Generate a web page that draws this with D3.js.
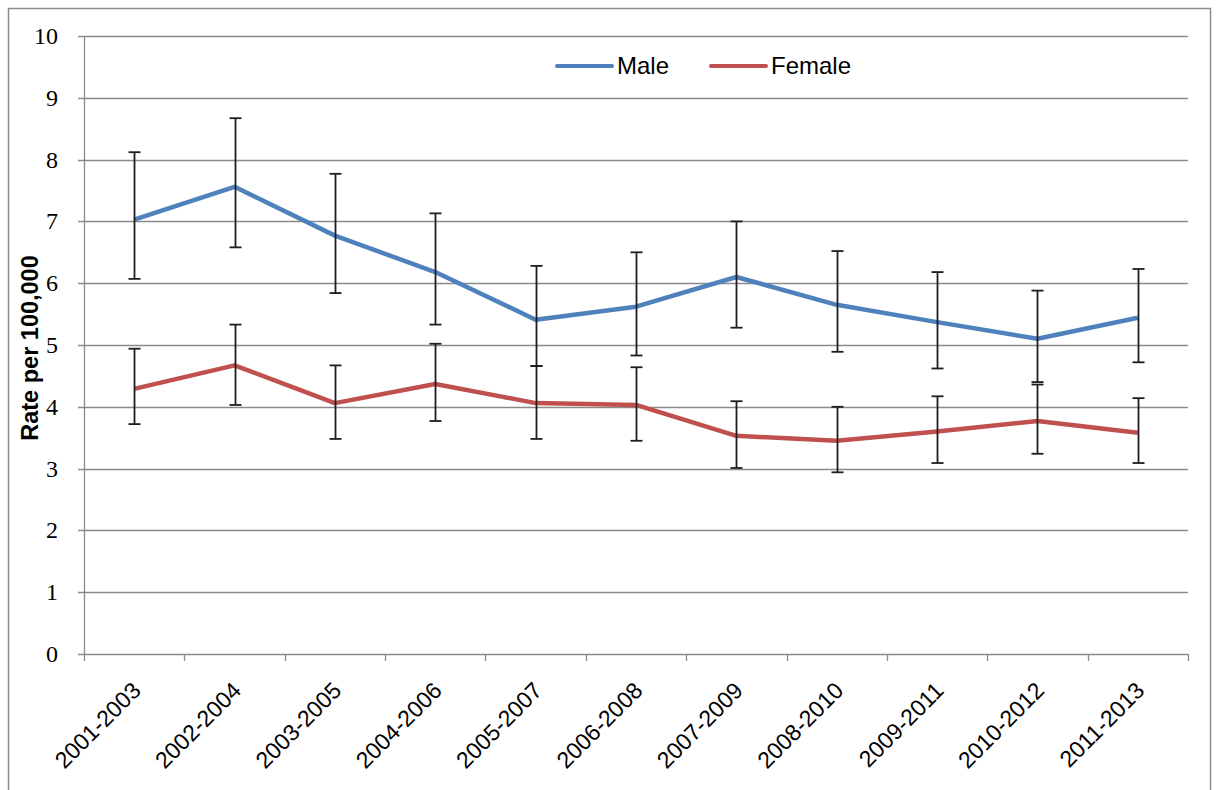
<!DOCTYPE html>
<html>
<head>
<meta charset="utf-8">
<script src="https://cdn.jsdelivr.net/npm/d3@7"></script>
<style>
  body { margin: 0; background: #fff; }
  svg { display: block; }
</style>
</head>
<body>
<svg id="chart"></svg>
<script>
var categories = ["2001-2003", "2002-2004", "2003-2005", "2004-2006", "2005-2007", "2006-2008",
    "2007-2009", "2008-2010", "2009-2011", "2010-2012", "2011-2013"];

var maleRate = [7.03, 7.56, 6.77, 6.18, 5.41, 5.62, 6.10, 5.65, 5.37, 5.10, 5.44];
var maleLow = [6.07, 6.58, 5.84, 5.33, 4.66, 4.83, 5.28, 4.89, 4.62, 4.40, 4.72];
var maleHigh = [8.12, 8.67, 7.77, 7.13, 6.28, 6.50, 7.00, 6.52, 6.18, 5.88, 6.23];

var femaleRate = [4.29, 4.67, 4.06, 4.37, 4.06, 4.03, 3.53, 3.45, 3.60, 3.77, 3.58];
var femaleLow = [3.72, 4.03, 3.48, 3.77, 3.48, 3.45, 3.01, 2.94, 3.09, 3.24, 3.09];
var femaleHigh = [4.94, 5.33, 4.67, 5.02, 4.66, 4.64, 4.09, 4.00, 4.17, 4.36, 4.14];

var yTicks = [0, 1, 2, 3, 4, 5, 6, 7, 8, 9, 10];

var width = 1216, height = 790;
var plot = { left: 84, right: 1188, top: 36, bottom: 654 };

var svg = d3.select("#chart")
    .attr("width", width)
    .attr("height", height);

// outer chart border
svg.append("rect")
    .attr("x", 8.5).attr("y", 8.5)
    .attr("width", 1202).attr("height", 800)
    .attr("fill", "#fff")
    .attr("stroke", "#8c8c8c")
    .attr("stroke-width", 1.5);

var x = d3.scaleBand()
    .domain(categories)
    .range([plot.left, plot.right]);

var y = d3.scaleLinear()
    .domain([0, 10])
    .range([plot.bottom, plot.top]);

var cx = d => x(d) + x.bandwidth() / 2;

// gridlines
svg.append("g")
    .selectAll("line")
    .data(yTicks)
    .join("line")
    .attr("x1", plot.left - 6)
    .attr("x2", plot.right)
    .attr("y1", d => Math.round(y(d)) + 0.5)
    .attr("y2", d => Math.round(y(d)) + 0.5)
    .attr("stroke", "#8a8a8a")
    .attr("stroke-width", 1.3);

// y axis line
svg.append("line")
    .attr("x1", plot.left + 0.5).attr("x2", plot.left + 0.5)
    .attr("y1", plot.top).attr("y2", plot.bottom)
    .attr("stroke", "#8a8a8a")
    .attr("stroke-width", 1.3);

// y tick labels
svg.append("g")
    .selectAll("text")
    .data(yTicks)
    .join("text")
    .attr("x", 58)
    .attr("y", d => y(d))
    .attr("dy", "0.33em")
    .attr("text-anchor", "end")
    .style("font", "24px 'Liberation Serif', serif")
    .attr("fill", "#000")
    .text(d => d);

// x tick marks at band edges
var edges = categories.map(d => x(d)).concat([plot.right]);
svg.append("g")
    .selectAll("line")
    .data(edges)
    .join("line")
    .attr("x1", d => Math.round(d) + 0.5)
    .attr("x2", d => Math.round(d) + 0.5)
    .attr("y1", plot.bottom)
    .attr("y2", plot.bottom + 7)
    .attr("stroke", "#8a8a8a")
    .attr("stroke-width", 1.3);

// x labels rotated
svg.append("g")
    .selectAll("text")
    .data(categories)
    .join("text")
    .attr("transform", d => `translate(${cx(d) + 8},${plot.bottom + 38}) rotate(-45)`)
    .attr("text-anchor", "end")
    .style("font", "23px 'Liberation Sans', Arial, sans-serif")
    .attr("fill", "#000")
    .text(d => d);

// y title
svg.append("text")
    .attr("transform", `translate(38,${(plot.top + plot.bottom) / 2 + 3}) rotate(-90)`)
    .attr("text-anchor", "middle")
    .style("font", "bold 23.5px 'Liberation Sans', Arial, sans-serif")
    .attr("fill", "#000")
    .text("Rate per 100,000");

var series = [
    { name: "Male", color: "#4f81bd", rate: maleRate, low: maleLow, high: maleHigh },
    { name: "Female", color: "#c0504d", rate: femaleRate, low: femaleLow, high: femaleHigh }
];

var line = d3.line()
    .x((d, i) => cx(categories[i]))
    .y(d => y(d));

series.forEach(s => {
    svg.append("path")
        .datum(s.rate)
        .attr("d", line)
        .attr("fill", "none")
        .attr("stroke", s.color)
        .attr("stroke-width", 4.5)
        .attr("stroke-linejoin", "round");
});

// error bars
series.forEach(s => {
    var g = svg.append("g")
        .attr("stroke", "#1e1e1e")
        .attr("stroke-width", 1.8);
    categories.forEach((c, i) => {
        var px = Math.round(cx(c)) + 0.5;
        g.append("line")
            .attr("x1", px).attr("x2", px)
            .attr("y1", y(s.low[i])).attr("y2", y(s.high[i]));
        g.append("line")
            .attr("x1", px - 6).attr("x2", px + 6)
            .attr("y1", y(s.low[i])).attr("y2", y(s.low[i]));
        g.append("line")
            .attr("x1", px - 6).attr("x2", px + 6)
            .attr("y1", y(s.high[i])).attr("y2", y(s.high[i]));
    });
});

// legend
var legendX = [557, 711];
var legend = svg.append("g")
    .selectAll("g")
    .data(series)
    .join("g")
    .attr("transform", (d, i) => `translate(${legendX[i]},66)`);

legend.append("line")
    .attr("x1", 0).attr("x2", 55)
    .attr("stroke", d => d.color)
    .attr("stroke-width", 4)
    .attr("stroke-linecap", "round");

legend.append("text")
    .attr("x", 60)
    .attr("y", 8)
    .style("font", "24px 'Liberation Sans', Arial, sans-serif")
    .attr("fill", "#000")
    .text(d => d.name);
</script>
</body>
</html>
